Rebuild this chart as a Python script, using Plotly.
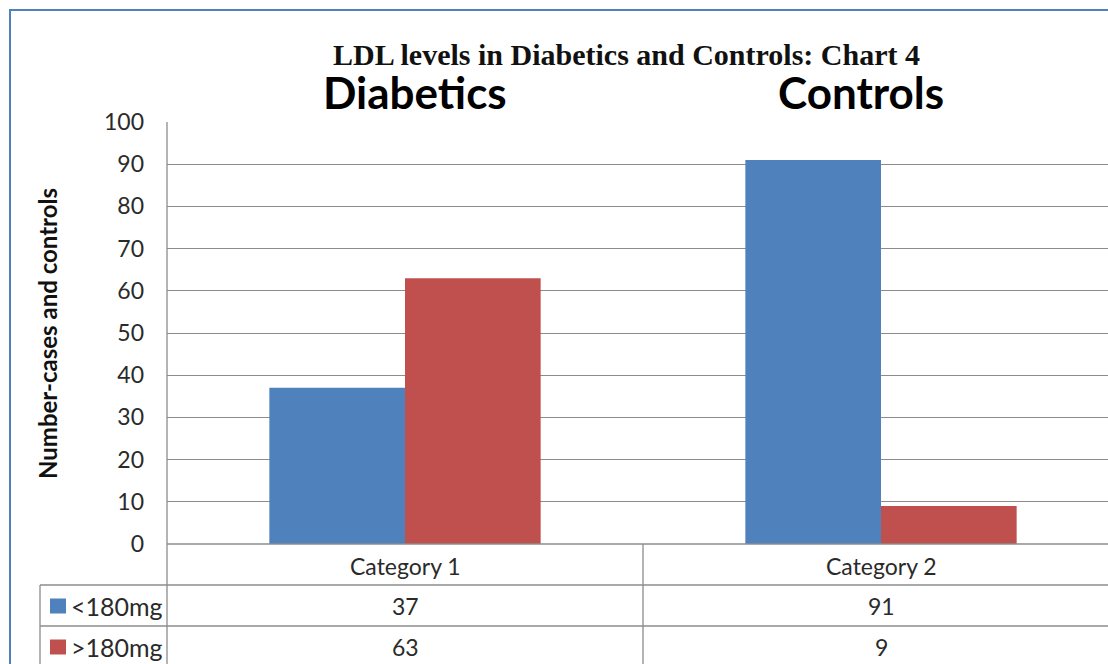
import plotly.graph_objects as go

categories = ["Category 1", "Category 2"]
series_names = ["<180mg", ">180mg"]
below_180 = [37, 91]
above_180 = [63, 9]
colors = ["#4F81BD", "#C0504D"]
group_titles = ["Diabetics", "Controls"]
y_ticks = [0, 10, 20, 30, 40, 50, 60, 70, 80, 90, 100]

W, H = 1108, 664
L, R, T, B = 167, 0, 122, 120
PW = W - L - R
PH = H - T - B


def px(x):
    return (x - L) / PW


def py(y):
    return (H - B - y) / PH


fig = go.Figure()
xs = list(range(len(categories)))
for name, vals, col in zip(series_names, [below_180, above_180], colors):
    fig.add_trace(go.Bar(x=xs, y=vals, name=name, marker=dict(color=col, line=dict(width=0)),
                         showlegend=False))

grid = "#8C8C8C"
shapes = []
# outer blue frame
shapes.append(dict(type="rect", xref="paper", yref="paper", x0=px(10), x1=px(1200), y0=py(800), y1=py(10),
                   line=dict(color="#4F81BD", width=2), fillcolor="rgba(0,0,0,0)", layer="below"))
# table lines
tl = dict(color=grid, width=1.3)
for yy in [544, 585, 626]:
    x0 = 167 if yy == 544 else 40
    shapes.append(dict(type="line", xref="paper", yref="paper", x0=px(x0), x1=px(1200), y0=py(yy), y1=py(yy), line=tl))
shapes.append(dict(type="line", xref="paper", yref="paper", x0=px(40), x1=px(40), y0=py(585), y1=py(700), line=tl))
shapes.append(dict(type="line", xref="paper", yref="paper", x0=px(167), x1=px(167), y0=py(122), y1=py(700), line=tl))
# category separators
for i in range(1, len(categories) + 1):
    shapes.append(dict(type="line", xref="x", yref="paper", x0=i - 0.5, x1=i - 0.5, y0=py(544), y1=py(700), line=tl))

annotations = []
ann_font = dict(family="Lato, Open Sans, sans-serif", size=23, color="#2a2a2a")
base = dict(showarrow=False, xanchor="center", yanchor="middle")
for i, c in enumerate(categories):
    annotations.append(dict(x=i, y=py(566), xref="x", yref="paper", text=c, font=ann_font, **base))
    annotations.append(dict(x=i, y=py(606), xref="x", yref="paper", text=str(below_180[i]), font=ann_font, **base))
    annotations.append(dict(x=i, y=py(647), xref="x", yref="paper", text=str(above_180[i]), font=ann_font, **base))
# legend keys in table
for name, col, yy in zip(series_names, colors, [606, 647]):
    shapes.append(dict(type="rect", xref="paper", yref="paper", x0=px(50), x1=px(66), y0=py(yy + 7.5), y1=py(yy - 7.5),
                       fillcolor=col, line=dict(width=0)))
    annotations.append(dict(x=px(69), y=py(yy), xref="paper", yref="paper", text=name, showarrow=False,
                            xanchor="left", yanchor="middle",
                            font=dict(family="Lato, Open Sans, sans-serif", size=25, color="#2a2a2a")))
# titles
annotations.append(dict(x=px(626), y=py(54), xref="paper", yref="paper",
                        text="<b>LDL levels in Diabetics and Controls: Chart 4</b>", height=30,
                        font=dict(family="Liberation Serif, serif", size=30, color="#111111"), **base))
for g, gx in zip(group_titles, [415, 861]):
    annotations.append(dict(x=px(gx), y=py(92), xref="paper", yref="paper", text="<b>" + g + "</b>", height=42,
                            font=dict(family="Lato, sans-serif", size=44, color="#000000"), **base))
annotations.append(dict(x=px(47), y=py(333), xref="paper", yref="paper", text="<b>Number-cases and controls</b>",
                        textangle=-90, font=dict(family="Lato, sans-serif", size=24, color="#111111"), **base))

fig.update_layout(
    width=W, height=H, margin=dict(l=L, r=R, t=T, b=B),
    paper_bgcolor="white", plot_bgcolor="white",
    barmode="group", bargap=0.43, bargroupgap=0,
    xaxis=dict(range=[-0.5, -0.5 + PW / 476], showticklabels=False, showgrid=False, zeroline=False,
               showline=False, fixedrange=True),
    yaxis=dict(range=[0, 100], tickvals=y_ticks, showgrid=True, gridcolor=grid, gridwidth=1.3,
               zeroline=False, showline=False, ticks="", ticklabelstandoff=22,
               tickfont=dict(family="Lato, Open Sans, sans-serif", size=23, color="#2a2a2a")),
    shapes=shapes, annotations=annotations,
)
fig.write_html("out.html", config={"displayModeBar": False},
               post_script="document.body.style.margin='0px';document.body.style.overflow='hidden';")
